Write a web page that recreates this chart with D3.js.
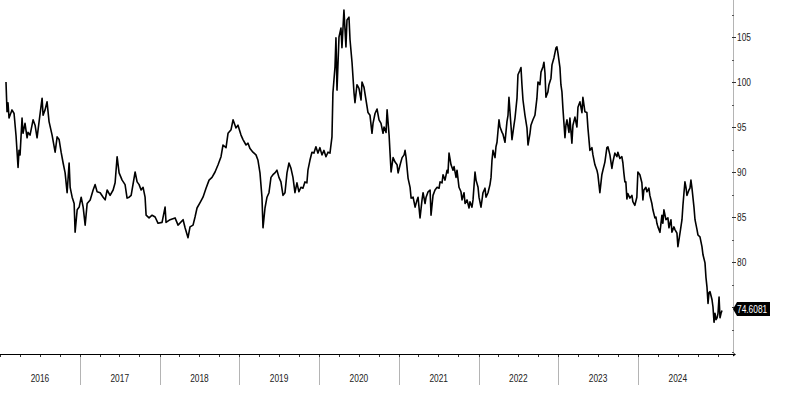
<!DOCTYPE html>
<html>
<head>
<meta charset="utf-8">
<script src="https://cdn.jsdelivr.net/npm/d3@7"></script>
<style>
  html, body { margin: 0; padding: 0; background: #fff; }
  svg { display: block; font-family: "Liberation Sans", Arial, sans-serif; }
</style>
</head>
<body>
<div id="chart"></div>
<script>
// time as decimal year
const years = [
  2016.075, 2016.088, 2016.100, 2016.113, 2016.150, 2016.176, 2016.201, 2016.226, 2016.238, 2016.251,
  2016.276, 2016.288, 2016.313, 2016.339, 2016.351, 2016.376, 2016.414, 2016.439, 2016.464, 2016.502,
  2016.527, 2016.539, 2016.564, 2016.589, 2016.614, 2016.652, 2016.690, 2016.715, 2016.740, 2016.765,
  2016.790, 2016.815, 2016.840, 2016.865, 2016.878, 2016.903, 2016.928, 2016.940, 2016.966, 2016.991,
  2017.016, 2017.041, 2017.066, 2017.091, 2017.129, 2017.166, 2017.191, 2017.216, 2017.254, 2017.292,
  2017.317, 2017.342, 2017.379, 2017.417, 2017.442, 2017.467, 2017.492, 2017.530, 2017.567, 2017.592,
  2017.618, 2017.643, 2017.693, 2017.718, 2017.743, 2017.768, 2017.793, 2017.818, 2017.831, 2017.868,
  2017.906, 2017.944, 2017.981, 2018.031, 2018.069, 2018.081, 2018.132, 2018.194, 2018.232, 2018.295,
  2018.320, 2018.357, 2018.382, 2018.420, 2018.445, 2018.470, 2018.508, 2018.545, 2018.583, 2018.621,
  2018.658, 2018.696, 2018.734, 2018.771, 2018.796, 2018.834, 2018.859, 2018.897, 2018.922, 2018.959,
  2018.984, 2019.022, 2019.047, 2019.085, 2019.110, 2019.135, 2019.172, 2019.210, 2019.235, 2019.260,
  2019.285, 2019.298, 2019.323, 2019.348, 2019.373, 2019.398, 2019.423, 2019.448, 2019.473, 2019.498,
  2019.523, 2019.549, 2019.574, 2019.599, 2019.624, 2019.649, 2019.674, 2019.699, 2019.724, 2019.749,
  2019.774, 2019.799, 2019.824, 2019.849, 2019.862, 2019.887, 2019.912, 2019.937, 2019.962, 2019.987,
  2020.012, 2020.038, 2020.063, 2020.088, 2020.113, 2020.138, 2020.163, 2020.175, 2020.201, 2020.213,
  2020.226, 2020.251, 2020.276, 2020.288, 2020.313, 2020.338, 2020.351, 2020.376, 2020.389, 2020.414,
  2020.439, 2020.451, 2020.476, 2020.501, 2020.527, 2020.539, 2020.564, 2020.589, 2020.614, 2020.639,
  2020.664, 2020.677, 2020.702, 2020.727, 2020.752, 2020.777, 2020.802, 2020.815, 2020.840, 2020.853,
  2020.878, 2020.890, 2020.903, 2020.928, 2020.953, 2020.978, 2020.991, 2021.016, 2021.041, 2021.066,
  2021.078, 2021.091, 2021.116, 2021.141, 2021.154, 2021.179, 2021.204, 2021.229, 2021.241, 2021.266,
  2021.291, 2021.304, 2021.329, 2021.342, 2021.367, 2021.392, 2021.404, 2021.429, 2021.454, 2021.480,
  2021.505, 2021.517, 2021.542, 2021.555, 2021.580, 2021.605, 2021.617, 2021.630, 2021.655, 2021.680,
  2021.693, 2021.718, 2021.730, 2021.755, 2021.780, 2021.793, 2021.818, 2021.831, 2021.856, 2021.881,
  2021.893, 2021.918, 2021.931, 2021.956, 2021.969, 2021.994, 2022.006, 2022.031, 2022.044, 2022.056,
  2022.081, 2022.094, 2022.119, 2022.144, 2022.157, 2022.169, 2022.182, 2022.207, 2022.219, 2022.232,
  2022.257, 2022.270, 2022.295, 2022.307, 2022.332, 2022.357, 2022.370, 2022.382, 2022.407, 2022.420,
  2022.445, 2022.458, 2022.483, 2022.495, 2022.520, 2022.533, 2022.545, 2022.558, 2022.583, 2022.608,
  2022.621, 2022.646, 2022.658, 2022.683, 2022.708, 2022.733, 2022.746, 2022.771, 2022.784, 2022.809,
  2022.821, 2022.834, 2022.846, 2022.871, 2022.884, 2022.909, 2022.922, 2022.947, 2022.972, 2022.984,
  2022.997, 2023.022, 2023.034, 2023.047, 2023.059, 2023.085, 2023.097, 2023.110, 2023.135, 2023.147,
  2023.172, 2023.185, 2023.210, 2023.235, 2023.248, 2023.273, 2023.298, 2023.310, 2023.335, 2023.360,
  2023.373, 2023.398, 2023.423, 2023.436, 2023.461, 2023.486, 2023.498, 2023.523, 2023.548, 2023.561,
  2023.586, 2023.611, 2023.624, 2023.649, 2023.674, 2023.686, 2023.711, 2023.737, 2023.749, 2023.774,
  2023.799, 2023.812, 2023.824, 2023.837, 2023.849, 2023.862, 2023.874, 2023.900, 2023.925, 2023.937,
  2023.962, 2023.987, 2024.000, 2024.025, 2024.050, 2024.063, 2024.075, 2024.100, 2024.113, 2024.138,
  2024.150, 2024.175, 2024.188, 2024.213, 2024.226, 2024.238, 2024.251, 2024.276, 2024.301, 2024.313,
  2024.326, 2024.351, 2024.376, 2024.389, 2024.414, 2024.426, 2024.451, 2024.464, 2024.489, 2024.501,
  2024.527, 2024.552, 2024.564, 2024.577, 2024.589, 2024.602, 2024.614, 2024.639, 2024.652, 2024.664,
  2024.677, 2024.702, 2024.715, 2024.740, 2024.752, 2024.777, 2024.802, 2024.815, 2024.840, 2024.852,
  2024.865, 2024.878, 2024.890, 2024.903, 2024.928, 2024.940, 2024.953, 2024.965, 2024.978, 2024.991,
  2025.003, 2025.016, 2025.028, 2025.041, 2025.053
];
const values = [
  100.0, 96.7, 97.7, 96.0, 96.9, 96.5, 94.0, 90.5, 92.4, 91.9,
  96.0, 94.3, 95.4, 93.8, 94.4, 94.1, 95.8, 95.2, 93.8, 96.5,
  98.2, 96.3, 96.9, 97.8, 95.6, 94.1, 92.2, 93.9, 93.6, 92.2,
  91.0, 89.9, 87.7, 91.0, 88.3, 87.2, 86.5, 83.3, 85.8, 86.1,
  87.2, 86.1, 84.1, 86.5, 86.9, 88.0, 88.6, 87.8, 87.7, 87.2,
  86.9, 88.0, 87.4, 88.0, 88.8, 91.7, 89.9, 89.1, 88.6, 87.1,
  87.2, 87.4, 90.0, 88.9, 88.6, 88.0, 88.3, 87.2, 85.2, 84.9,
  85.2, 85.0, 84.3, 84.4, 86.1, 84.4, 84.7, 84.9, 84.1, 84.7,
  83.8, 82.7, 83.9, 84.1, 85.0, 86.0, 86.6, 87.2, 88.2, 89.1,
  89.4, 90.0, 90.8, 91.7, 93.0, 92.7, 94.3, 94.7, 95.8, 94.9,
  95.2, 94.1, 93.6, 93.0, 93.2, 92.6, 92.2, 91.9, 91.3, 89.9,
  87.2, 83.8, 86.0, 87.2, 87.7, 89.4, 89.7, 89.9, 90.2, 89.4,
  88.9, 87.4, 87.7, 89.9, 91.0, 90.4, 89.4, 87.7, 88.8, 87.8,
  88.3, 88.2, 88.9, 88.8, 90.2, 91.3, 92.2, 92.1, 92.8, 92.1,
  92.7, 91.9, 92.4, 91.7, 92.2, 92.1, 93.9, 98.8, 101.7, 104.9,
  99.1, 105.0, 106.0, 103.8, 108.0, 103.9, 106.9, 107.2, 104.7, 102.2,
  98.8, 97.7, 99.7, 99.3, 98.0, 100.0, 99.4, 98.0, 96.6, 96.3,
  94.3, 95.4, 96.5, 97.0, 95.8, 95.4, 94.3, 95.0, 94.4, 96.9,
  94.1, 92.1, 90.0, 91.6, 91.1, 90.8, 89.9, 90.8, 91.6, 91.9,
  92.4, 91.6, 89.3, 88.3, 87.1, 87.2, 86.1, 86.9, 87.2, 84.9,
  86.9, 87.7, 86.5, 87.2, 87.8, 88.0, 85.2, 87.4, 88.0, 88.3,
  88.2, 88.9, 88.8, 89.7, 89.1, 90.2, 89.9, 92.1, 90.8, 90.2,
  90.6, 89.4, 90.2, 88.3, 87.8, 86.9, 87.7, 86.5, 86.9, 86.0,
  86.7, 86.1, 86.9, 90.0, 89.1, 88.3, 87.2, 86.1, 86.9, 87.7,
  88.2, 87.2, 87.7, 88.6, 89.4, 91.3, 92.4, 91.6, 92.8, 93.3,
  95.8, 95.0, 94.4, 94.2, 93.3, 95.6, 96.3, 98.3, 95.2, 93.6,
  95.2, 96.0, 98.2, 100.8, 101.3, 101.6, 99.7, 98.0, 96.3, 94.9,
  93.0, 94.3, 95.2, 95.8, 96.3, 98.2, 100.0, 99.7, 101.1, 101.7,
  102.2, 101.0, 98.3, 98.9, 99.7, 100.4, 101.9, 102.7, 103.8, 103.9,
  103.2, 101.6, 99.7, 98.9, 97.1, 93.8, 95.2, 95.8, 94.4, 96.0,
  93.2, 95.2, 96.1, 95.0, 97.2, 97.8, 96.6, 98.3, 96.7, 96.6,
  94.9, 92.4, 92.7, 91.9, 90.8, 90.2, 89.7, 87.7, 89.7, 90.2,
  91.1, 92.7, 92.8, 91.9, 90.4, 91.1, 92.1, 91.7, 92.2, 91.5,
  91.7, 91.0, 89.9, 88.9, 88.9, 87.0, 87.6, 87.1, 87.4, 86.7,
  86.3, 87.2, 90.0, 89.7, 88.8, 86.9, 88.0, 88.3, 87.8, 88.2,
  87.4, 86.5, 85.8, 84.9, 85.0, 84.3, 83.9, 83.3, 85.2, 84.3,
  85.8, 84.7, 84.9, 83.8, 84.7, 83.3, 83.9, 83.6, 83.2, 81.7,
  83.2, 84.7, 86.3, 87.7, 88.9, 88.3, 87.4, 88.0, 88.2, 89.1,
  88.2, 86.1, 84.7, 83.6, 83.0, 82.8, 81.7, 80.8, 79.9, 78.3,
  77.2, 75.4, 76.6, 76.7, 75.8, 75.0, 73.3, 74.3, 73.6, 73.8,
  74.3, 76.1, 73.8, 74.3, 74.6081
];
const yearLabels = [2016, 2017, 2018, 2019, 2020, 2021, 2022, 2023, 2024];
const majorTicks = [75, 80, 85, 90, 95, 100, 105];
const labelTicks = [80, 85, 90, 95, 100, 105]; // 75 sits under the last-value tag
const minorTicks = [70, 72.5, 77.5, 82.5, 87.5, 92.5, 97.5, 102.5, 107.5];

const width = 786, height = 400;
const axisX = 733, axisY = 354;
const squeeze = 0.76; // reference uses a condensed face

// decimal year -> Date
const toDate = t => {
  const y = Math.floor(t);
  const a = new Date(y, 0, 1), b = new Date(y + 1, 0, 1);
  return new Date(+a + (t - y) * (b - a));
};
const data = years.map((t, i) => ({ date: toDate(t), value: values[i] }));

const svg = d3.select("#chart").append("svg")
  .attr("width", width)
  .attr("height", height);

svg.append("rect").attr("width", width).attr("height", height).attr("fill", "#fff");

const x = d3.scaleTime()
  .domain([new Date(2016, 0, 1), toDate(2025.191)])
  .range([0, axisX]);

const y = d3.scaleLinear()
  .domain([70, 110])
  .range([352, -8]);

// year separators below the x axis
const yearStarts = yearLabels.slice(1).map(yr => new Date(yr, 0, 1));
svg.append("g")
  .selectAll("line")
  .data(yearStarts)
  .join("line")
  .attr("x1", d => Math.round(x(d)) + 0.5)
  .attr("x2", d => Math.round(x(d)) + 0.5)
  .attr("y1", axisY)
  .attr("y2", 385)
  .attr("stroke", "#b4b4b4")
  .attr("stroke-width", 1);

// quarterly minor ticks
const quarters = d3.timeMonth.every(3).range(new Date(2016, 0, 1), toDate(2025.191));
svg.append("g")
  .selectAll("line")
  .data(quarters)
  .join("line")
  .attr("x1", d => Math.round(x(d)) + 0.5)
  .attr("x2", d => Math.round(x(d)) + 0.5)
  .attr("y1", axisY)
  .attr("y2", axisY + 3)
  .attr("stroke", "#333");

// year labels centred in each year
svg.append("g")
  .selectAll("text")
  .data(yearLabels)
  .join("text")
  .attr("transform", yr => {
    const cx = (x(new Date(yr, 0, 1)) + x(new Date(yr + 1, 0, 1))) / 2;
    return `translate(${cx},382) scale(${squeeze},1)`;
  })
  .attr("text-anchor", "middle")
  .attr("font-size", "11px")
  .attr("fill", "#222")
  .text(d => d);

// x axis line with small arrow
svg.append("line")
  .attr("x1", 0).attr("x2", axisX)
  .attr("y1", axisY + 0.5).attr("y2", axisY + 0.5)
  .attr("stroke", "#000")
  .attr("stroke-width", 1);
svg.append("path")
  .attr("d", `M${axisX},${axisY - 1.5}L${axisX + 3},${axisY + 0.5}L${axisX},${axisY + 2.5}Z`)
  .attr("fill", "#000");

// right y axis
svg.append("line")
  .attr("x1", axisX + 0.5).attr("x2", axisX + 0.5)
  .attr("y1", 0).attr("y2", axisY)
  .attr("stroke", "#b4b4b4");

svg.append("g")
  .selectAll("line")
  .data(minorTicks)
  .join("line")
  .attr("x1", axisX - 1).attr("x2", axisX + 1)
  .attr("y1", d => Math.round(y(d)) + 0.5)
  .attr("y2", d => Math.round(y(d)) + 0.5)
  .attr("stroke", "#555");

svg.append("g")
  .selectAll("line")
  .data(majorTicks)
  .join("line")
  .attr("x1", axisX - 1).attr("x2", axisX + 3)
  .attr("y1", d => Math.round(y(d)) + 0.5)
  .attr("y2", d => Math.round(y(d)) + 0.5)
  .attr("stroke", "#333");

svg.append("g")
  .selectAll("text")
  .data(labelTicks)
  .join("text")
  .attr("transform", d => `translate(${axisX + 4},${Math.round(y(d)) + 0.5}) scale(${squeeze},1)`)
  .attr("dy", "0.35em")
  .attr("font-size", "11px")
  .attr("fill", "#222")
  .text(d => d);

// price line
const line = d3.line()
  .x(d => x(d.date))
  .y(d => y(d.value));

svg.append("path")
  .datum(data)
  .attr("fill", "none")
  .attr("stroke", "#000")
  .attr("stroke-width", 1.6)
  .attr("stroke-linejoin", "round")
  .attr("d", line);

// last value tag
const last = data[data.length - 1];
const ly = y(last.value) - 1.5;
svg.append("path")
  .attr("d", `M${axisX},${ly}L${axisX + 4},${ly - 7}L${axisX + 37},${ly - 7}L${axisX + 37},${ly + 7}L${axisX + 4},${ly + 7}Z`)
  .attr("fill", "#000");
svg.append("text")
  .attr("transform", `translate(${axisX + 4},${ly}) scale(${squeeze},1)`)
  .attr("dy", "0.36em")
  .attr("font-size", "11px")
  .attr("fill", "#fff")
  .text(d3.format(".4f")(last.value));
</script>
</body>
</html>
